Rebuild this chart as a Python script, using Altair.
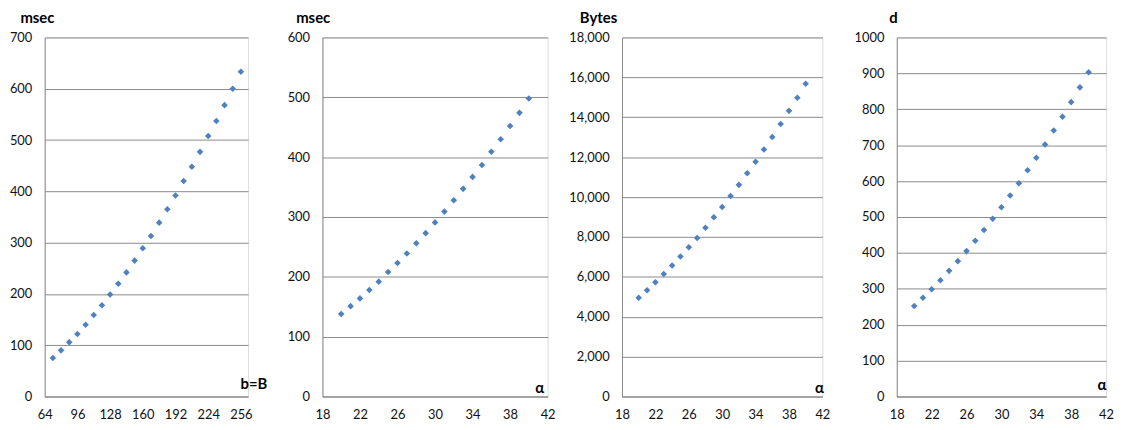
import altair as alt
import pandas as pd

# ---- data ----
b_values = [72, 80, 88, 96, 104, 112, 120, 128, 136, 144, 152, 160,
            168, 176, 184, 192, 200, 208, 216, 224, 232, 240, 248, 256]
msec_b = [75, 90, 106, 122, 140, 159, 178, 199, 220, 242, 265, 289,
          313, 339, 365, 392, 420, 448, 477, 508, 537, 568, 600, 633]

alpha_values = [20, 21, 22, 23, 24, 25, 26, 27, 28, 29, 30,
                31, 32, 33, 34, 35, 36, 37, 38, 39, 40]
msec_alpha = [138, 151, 164, 178, 192, 208, 223, 239, 256, 273, 291,
              309, 328, 347, 367, 387, 409, 430, 452, 474, 498]
bytes_alpha = [4950, 5330, 5730, 6140, 6570, 7020, 7480, 7950, 8460, 8990, 9500,
               10050, 10610, 11190, 11770, 12380, 13010, 13660, 14320, 14980, 15680]
d_alpha = [252, 275, 299, 324, 350, 377, 405, 434, 464, 495, 527,
           560, 594, 630, 665, 702, 741, 779, 820, 861, 903]

x_ticks_b = [64, 96, 128, 160, 192, 224, 256]
x_ticks_alpha = [18, 22, 26, 30, 34, 38, 42]

FONT = "Lato"
GRID = "#8a8a8a"
BLUE = "#4F81BD"
H = 362


def panel(xs, ys, xdom, xticks, ydom, yticks, yfmt, ytitle, xtitle,
          width, ytitle_x, xtitle_x, xtitle_y):
    df = pd.DataFrame({"x": xs, "y": ys})
    return alt.Chart(df).mark_point(
        shape="diamond", filled=True, size=44, color=BLUE, opacity=1
    ).encode(
        x=alt.X("x:Q", scale=alt.Scale(domain=xdom, nice=False, zero=False),
                axis=alt.Axis(values=xticks, grid=False, ticks=False, domain=True,
                              domainColor=GRID, labelPadding=12, labelFontSize=13,
                              labelFont=FONT, labelColor="#111", labelFlush=False,
                              title=xtitle, titleFont=FONT, titleFontSize=15,
                              titleFontWeight="bold", titleColor="#000",
                              titleAnchor="start", titleAlign="right",
                              titleBaseline="alphabetic",
                              titleX=xtitle_x, titleY=xtitle_y)),
        y=alt.Y("y:Q", scale=alt.Scale(domain=ydom, nice=False),
                axis=alt.Axis(values=yticks, format=yfmt, grid=True, gridColor=GRID,
                              gridWidth=1, ticks=False, domain=True, domainColor=GRID,
                              labelPadding=13, labelFontSize=13, labelFont=FONT,
                              labelColor="#111",
                              title=ytitle, titleFont=FONT, titleFontSize=15,
                              titleFontWeight="bold", titleColor="#000",
                              titleAngle=0, titleAlign="left",
                              titleBaseline="alphabetic",
                              titleX=ytitle_x, titleY=-15)),
    ).properties(width=width, height=H)


p1 = panel(b_values, msec_b, [64, 263], x_ticks_b, [0, 700],
           [0, 100, 200, 300, 400, 500, 600, 700], "d", "msec", "b=B",
           205, -25, 224, -8)
p2 = panel(alpha_values, msec_alpha, [18, 42], x_ticks_alpha, [0, 600],
           [0, 100, 200, 300, 400, 500, 600], "d", "msec", "α",
           227, -27, 223, -4)
p3 = panel(alpha_values, bytes_alpha, [18, 42], x_ticks_alpha, [0, 18000],
           [0, 2000, 4000, 6000, 8000, 10000, 12000, 14000, 16000, 18000], ",d",
           "Bytes", "α", 202, -43, 203, -4)
p4 = panel(alpha_values, d_alpha, [18, 42], x_ticks_alpha, [0, 1000],
           [0, 100, 200, 300, 400, 500, 600, 700, 800, 900, 1000], "d",
           "d", "α", 211, -8, 211, -7)

chart = alt.hconcat(p1, p2, p3, p4, spacing=75).properties(
    padding=0, bounds="flush"
).configure_view(stroke=None).configure(background="white")

chart.save("out.html", embed_options={"renderer": "svg", "actions": False})
